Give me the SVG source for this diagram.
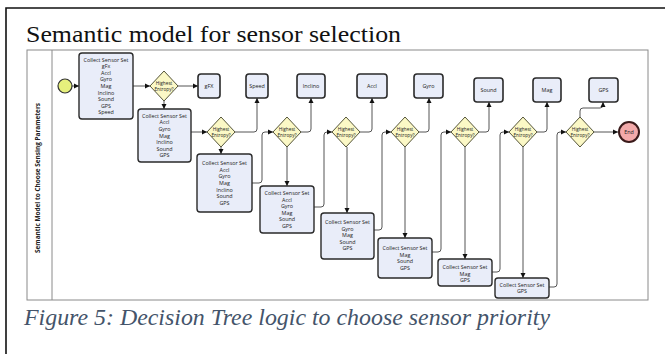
<svg xmlns="http://www.w3.org/2000/svg" width="665" height="354" viewBox="0 0 665 354">
<defs>
<marker id="ah" markerWidth="6" markerHeight="6" refX="5" refY="3" orient="auto" markerUnits="userSpaceOnUse">
<path d="M0,0.5 L5,3 L0,5.5 Z" fill="#111"/>
</marker>
</defs>
<style>
.box{fill:#e9edf9;stroke:#2a2a2a;stroke-width:1.4}
.task{fill:#e9edf9;stroke:#2a2a2a;stroke-width:1.6}
.dia{fill:#fbf8c6;stroke:#55553a;stroke-width:1}
.t{font-family:"Open Sans","Liberation Sans",sans-serif;font-size:5.4px;fill:#222;text-anchor:middle}
.dt{font-family:"Open Sans","Liberation Sans",sans-serif;font-size:4.7px;fill:#222;text-anchor:middle}
.c{fill:none;stroke:#555;stroke-width:1;stroke-linejoin:round}
.ca{fill:none;stroke:#555;stroke-width:1;stroke-linejoin:round;marker-end:url(#ah)}
.serif{font-family:"Liberation Serif","Times New Roman",serif}
</style>
<rect x="0" y="0" width="665" height="354" fill="#fff"/>
<path d="M6,354 L6,8 L665,8" fill="none" stroke="#111" stroke-width="1.6"/>
<text class="serif" x="26" y="42" font-size="24" fill="#111" textLength="375" lengthAdjust="spacingAndGlyphs">Semantic model for sensor selection</text>
<rect x="27" y="50" width="621" height="250" fill="none" stroke="#8a8a8a" stroke-width="1"/>
<line x1="52" y1="50" x2="52" y2="300" stroke="#8a8a8a" stroke-width="1"/>
<text transform="translate(39.5,178) rotate(-90)" font-family="'Open Sans','Liberation Sans',sans-serif" font-size="6.2" font-weight="bold" fill="#222" text-anchor="middle" textLength="150" lengthAdjust="spacingAndGlyphs">Semantic Model to Choose Sensing Parameters</text>
<text class="serif" x="24" y="325" font-style="italic" font-size="23" fill="#44546A" textLength="526" lengthAdjust="spacingAndGlyphs">Figure 5:  Decision Tree logic to choose sensor priority</text>

<g id="connectors">
<path class="ca" d="M72,86 L79,86"/>
<path class="ca" d="M133,86 L150,86"/>
<path class="ca" d="M178,86 L198,86"/>
<path class="ca" d="M164,101 L164,109"/>
<path class="ca" d="M191,132 L207,132"/>
<path class="ca" d="M235,132 L254,132 Q257,132 257,129 L257,98"/>
<path class="ca" d="M221,147 L221,154"/>
<path class="ca" d="M252,183 L259,183 Q262,183 262,180 L262,135 Q262,132 265,132 L273,132"/>
<path class="ca" d="M301,132 L308,132 Q311,132 311,129 L311,98"/>
<path class="ca" d="M287,147 L287,186"/>
<path class="ca" d="M314,207 L321,207 Q324,207 324,204 L324,135 Q324,132 327,132 L332,132"/>
<path class="ca" d="M360,132 L369,132 Q372,132 372,129 L372,98"/>
<path class="ca" d="M347,147 L347,213"/>
<path class="ca" d="M374,230 L379,230 Q382,230 382,227 L382,135 Q382,132 385,132 L391,132"/>
<path class="ca" d="M419,132 L426,132 Q429,132 429,129 L429,98"/>
<path class="ca" d="M405,147 L405,238"/>
<path class="ca" d="M432,252 L438,252 Q441,252 441,249 L441,135 Q441,132 444,132 L451,132"/>
<path class="ca" d="M479,132 L486,132 Q489,132 489,129 L489,102"/>
<path class="ca" d="M465,147 L465,259"/>
<path class="ca" d="M492,272 L497,272 Q500,272 500,269 L500,135 Q500,132 503,132 L509,132"/>
<path class="ca" d="M537,132 L544,132 Q547,132 547,129 L547,102"/>
<path class="ca" d="M523,147 L523,278"/>
<path class="ca" d="M549,287 L554,287 Q557,287 557,284 L557,135 Q557,132 560,132 L566,132"/>
<path class="ca" d="M580,117 L580,111 Q580,108 583,108 L600,108 Q603,108 603,105 L603,102"/>
<path class="ca" d="M594,132 L618,132"/>
</g>

<g id="start"><circle cx="65" cy="86" r="7" fill="#e6f07c" stroke="#333" stroke-width="1.2"/></g>

<g id="box1"><rect class="box" x="79" y="53" width="54" height="66" rx="3"/>
<text class="t" x="106" y="61.6">Collect Sensor Set</text><text class="t" x="106" y="68.2">gFx</text><text class="t" x="106" y="74.8">Accl</text><text class="t" x="106" y="81.4">Gyro</text><text class="t" x="106" y="88">Mag</text><text class="t" x="106" y="94.6">Inclino</text><text class="t" x="106" y="101.2">Sound</text><text class="t" x="106" y="107.8">GPS</text><text class="t" x="106" y="114.4">Speed</text></g>

<g id="box2"><rect class="box" x="138" y="109" width="53" height="53" rx="3"/>
<text class="t" x="164.5" y="117.7">Collect Sensor Set</text><text class="t" x="164.5" y="124.3">Accl</text><text class="t" x="164.5" y="130.9">Gyro</text><text class="t" x="164.5" y="137.5">Mag</text><text class="t" x="164.5" y="144.1">Inclino</text><text class="t" x="164.5" y="150.7">Sound</text><text class="t" x="164.5" y="157.3">GPS</text></g>

<g id="box3"><rect class="box" x="197" y="154" width="55" height="58" rx="3"/>
<text class="t" x="224.5" y="165.2">Collect Sensor Set</text><text class="t" x="224.5" y="171.8">Accl</text><text class="t" x="224.5" y="178.4">Gyro</text><text class="t" x="224.5" y="185">Mag</text><text class="t" x="224.5" y="191.6">Inclino</text><text class="t" x="224.5" y="198.2">Sound</text><text class="t" x="224.5" y="204.8">GPS</text></g>

<g id="box4"><rect class="box" x="260" y="186" width="54" height="47" rx="3"/>
<text class="t" x="287" y="195">Collect Sensor Set</text><text class="t" x="287" y="201.6">Accl</text><text class="t" x="287" y="208.2">Gyro</text><text class="t" x="287" y="214.8">Mag</text><text class="t" x="287" y="221.4">Sound</text><text class="t" x="287" y="228">GPS</text></g>

<g id="box5"><rect class="box" x="321" y="213" width="53" height="46" rx="3"/>
<text class="t" x="347.5" y="224">Collect Sensor Set</text><text class="t" x="347.5" y="230.6">Gyro</text><text class="t" x="347.5" y="237.2">Mag</text><text class="t" x="347.5" y="243.8">Sound</text><text class="t" x="347.5" y="250.4">GPS</text></g>

<g id="box6"><rect class="box" x="378" y="238" width="54" height="40" rx="3"/>
<text class="t" x="405" y="250.1">Collect Sensor Set</text><text class="t" x="405" y="256.7">Mag</text><text class="t" x="405" y="263.3">Sound</text><text class="t" x="405" y="269.9">GPS</text></g>

<g id="box7"><rect class="box" x="438" y="259" width="54" height="27" rx="3"/>
<text class="t" x="465" y="268.9">Collect Sensor Set</text><text class="t" x="465" y="275.5">Mag</text><text class="t" x="465" y="282.1">GPS</text></g>

<g id="box8"><rect class="box" x="495" y="278" width="54" height="20" rx="3"/>
<text class="t" x="522" y="286.7">Collect Sensor Set</text><text class="t" x="522" y="293.3">GPS</text></g>

<g id="d1"><path class="dia" d="M164,71 L178,86 L164,101 L150,86 Z"/><text class="dt" x="164" y="84.6">Highest</text><text class="dt" x="164" y="90.6">Entropy?</text></g>
<g id="d2"><path class="dia" d="M221,117 L235,132 L221,147 L207,132 Z"/><text class="dt" x="221" y="130.6">Highest</text><text class="dt" x="221" y="136.6">Entropy?</text></g>
<g id="d3"><path class="dia" d="M287,117 L301,132 L287,147 L273,132 Z"/><text class="dt" x="287" y="130.6">Highest</text><text class="dt" x="287" y="136.6">Entropy?</text></g>
<g id="d4"><path class="dia" d="M346,117 L360,132 L346,147 L332,132 Z"/><text class="dt" x="346" y="130.6">Highest</text><text class="dt" x="346" y="136.6">Entropy?</text></g>
<g id="d5"><path class="dia" d="M405,117 L419,132 L405,147 L391,132 Z"/><text class="dt" x="405" y="130.6">Highest</text><text class="dt" x="405" y="136.6">Entropy?</text></g>
<g id="d6"><path class="dia" d="M465,117 L479,132 L465,147 L451,132 Z"/><text class="dt" x="465" y="130.6">Highest</text><text class="dt" x="465" y="136.6">Entropy?</text></g>
<g id="d7"><path class="dia" d="M523,117 L537,132 L523,147 L509,132 Z"/><text class="dt" x="523" y="130.6">Highest</text><text class="dt" x="523" y="136.6">Entropy?</text></g>
<g id="d8"><path class="dia" d="M580,117 L594,132 L580,147 L566,132 Z"/><text class="dt" x="580" y="130.6">Highest</text><text class="dt" x="580" y="136.6">Entropy?</text></g>

<g id="gfx"><rect class="task" x="198" y="74" width="22" height="24" rx="3"/><text class="t" x="209" y="88">gFX</text></g>
<g id="speed"><rect class="task" x="246" y="74" width="22" height="24" rx="3"/><text class="t" x="257" y="88">Speed</text></g>
<g id="inclino"><rect class="task" x="297" y="74" width="28" height="24" rx="3"/><text class="t" x="311" y="88">Inclino</text></g>
<g id="accl"><rect class="task" x="357" y="74" width="30" height="24" rx="3"/><text class="t" x="372" y="88">Accl</text></g>
<g id="gyro"><rect class="task" x="414" y="74" width="29" height="24" rx="3"/><text class="t" x="428.5" y="88">Gyro</text></g>
<g id="sound"><rect class="task" x="474" y="78" width="29" height="24" rx="3"/><text class="t" x="488.5" y="92">Sound</text></g>
<g id="mag"><rect class="task" x="533" y="78" width="28" height="24" rx="3"/><text class="t" x="547" y="92">Mag</text></g>
<g id="gps"><rect class="task" x="589" y="78" width="29" height="24" rx="3"/><text class="t" x="603.5" y="92">GPS</text></g>

<g id="end"><circle cx="629" cy="132" r="10" fill="#f3aaaa" stroke="#3a1a1a" stroke-width="2"/><text class="t" x="629" y="134">End</text></g>
</svg>
